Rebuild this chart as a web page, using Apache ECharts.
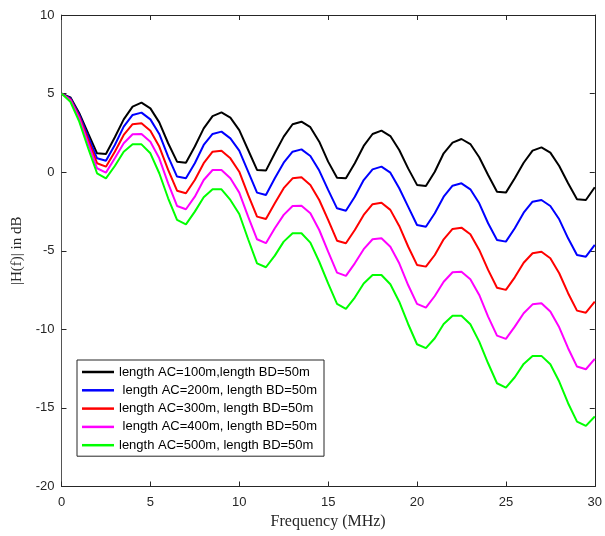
<!DOCTYPE html>
<html>
<head>
<meta charset="utf-8">
<script src="https://cdn.jsdelivr.net/npm/echarts@6/dist/echarts.min.js"></script>
<style>
  html, body { margin: 0; padding: 0; background: #fff; }
  #main { width: 605px; height: 536px; }
</style>
</head>
<body>
<div id="main"></div>
<script>
// frequency axis (MHz), one point every 0.5 MHz
var freqs = [0, 0.5, 1, 1.5, 2, 2.5, 3, 3.5, 4, 4.5, 5, 5.5, 6, 6.5, 7, 7.5, 8, 8.5, 9, 9.5,
  10, 10.5, 11, 11.5, 12, 12.5, 13, 13.5, 14, 14.5, 15, 15.5, 16, 16.5, 17, 17.5, 18, 18.5, 19, 19.5,
  20, 20.5, 21, 21.5, 22, 22.5, 23, 23.5, 24, 24.5, 25, 25.5, 26, 26.5, 27, 27.5, 28, 28.5, 29, 29.5, 30];

// |H(f)| in dB
var ac100 = [5.0, 4.76, 3.75, 2.47, 1.2, 1.16, 2.22, 3.36, 4.17, 4.42, 4.06, 3.17, 1.84, 0.67, 0.6, 1.63, 2.79, 3.57, 3.8, 3.47,
  2.68, 1.41, 0.14, 0.1, 1.2, 2.26, 3.05, 3.21, 2.86, 1.94, 0.67, -0.35, -0.39, 0.57, 1.67, 2.43, 2.64, 2.3, 1.41, 0.24,
  -0.81, -0.88, 0.03, 1.2, 1.88, 2.11, 1.79, 0.95, -0.18, -1.24, -1.3, -0.39, 0.6, 1.37, 1.58, 1.24, 0.39, -0.71, -1.72, -1.77, -0.96];
var ac200 = [5.0, 4.70, 3.64, 2.26, 0.88, 0.73, 1.73, 2.9, 3.64, 3.79, 3.36, 2.43, 0.99, -0.28, -0.39, 0.57, 1.73, 2.43, 2.58, 2.15,
  1.37, 0.03, -1.3, -1.45, -0.39, 0.6, 1.3, 1.45, 1.03, 0.1, -1.13, -2.3, -2.45, -1.56, -0.5, 0.18, 0.35, -0.03, -1.02, -2.19,
  -3.36, -3.47, -2.61, -1.56, -0.86, -0.71, -1.09, -1.98, -3.25, -4.31, -4.42, -3.57, -2.58, -1.88, -1.77, -2.15, -3.0, -4.21, -5.27, -5.38, -4.63];
var ac300 = [5.0, 4.64, 3.53, 2.05, 0.57, 0.35, 1.3, 2.37, 3.05, 3.11, 2.64, 1.63, 0.14, -1.18, -1.34, -0.5, 0.57, 1.3, 1.37, 0.88,
  0.03, -1.45, -2.83, -2.98, -1.98, -1.02, -0.39, -0.32, -0.81, -1.77, -3.04, -4.36, -4.52, -3.68, -2.72, -2.04, -1.94, -2.4, -3.42, -4.73,
  -5.9, -6.01, -5.27, -4.27, -3.61, -3.53, -3.95, -4.95, -6.22, -7.35, -7.49, -6.69, -5.76, -5.16, -5.06, -5.48, -6.43, -7.7, -8.81, -8.94, -8.24];
var ac400 = [5.0, 4.59, 3.43, 1.84, 0.25, -0.03, 0.88, 1.84, 2.41, 2.43, 1.94, 0.88, -0.71, -2.15, -2.36, -1.56, -0.5, 0.14, 0.14, -0.39,
  -1.3, -2.83, -4.27, -4.52, -3.57, -2.72, -2.15, -2.13, -2.61, -3.68, -5.06, -6.39, -6.6, -5.8, -4.9, -4.27, -4.21, -4.74, -5.8, -7.18,
  -8.38, -8.62, -7.88, -6.97, -6.37, -6.33, -6.81, -7.81, -9.19, -10.4, -10.61, -9.83, -8.98, -8.41, -8.34, -8.87, -9.87, -11.2, -12.37, -12.54, -11.88];
var ac500 = [5.0, 4.48, 3.21, 1.52, -0.07, -0.39, 0.39, 1.3, 1.77, 1.77, 1.2, -0.07, -1.66, -3.04, -3.32, -2.51, -1.6, -1.09, -1.09, -1.77,
  -2.66, -4.27, -5.8, -6.05, -5.31, -4.42, -3.89, -3.89, -4.48, -5.7, -7.08, -8.38, -8.7, -7.98, -7.08, -6.54, -6.54, -7.13, -8.24, -9.66,
  -10.95, -11.2, -10.57, -9.66, -9.13, -9.13, -9.68, -10.78, -12.16, -13.43, -13.71, -13.05, -12.2, -11.69, -11.69, -12.22, -13.32, -14.7, -15.87, -16.14, -15.55];

var names = [
  'length AC=100m,length BD=50m',
  ' length AC=200m, length BD=50m',
  'length AC=300m, length BD=50m',
  ' length AC=400m, length BD=50m',
  'length AC=500m, length BD=50m'
];
var colors = ['#000000', '#0000ff', '#ff0000', '#ff00ff', '#00ff00'];
var values = [ac100, ac200, ac300, ac400, ac500];

var chart = echarts.init(document.getElementById('main'));

function pairs(ys) {
  return freqs.map(function (f, i) { return [f, ys[i]]; });
}

var axisColor = '#262626';
var labelFont = { color: axisColor, fontFamily: 'Liberation Sans, Arial, sans-serif', fontSize: 13 };

var option = {
  animation: false,
  backgroundColor: '#ffffff',
  grid: { left: 61.5, right: 7.5, top: 15, bottom: 49.5, containLabel: false },
  legend: {
    orient: 'vertical',
    left: 77,
    top: 360,
    icon: 'rect',
    itemWidth: 32,
    itemHeight: 2.5,
    itemGap: 4.3,
    padding: [5, 7, 4, 5],
    backgroundColor: '#ffffff',
    borderColor: axisColor,
    borderWidth: 1,
    borderRadius: 0,
    textStyle: { color: '#000', fontFamily: 'Liberation Sans, Arial, sans-serif', fontSize: 13, lineHeight: 14 },
    data: names
  },
  xAxis: [{
    type: 'value', min: 0, max: 30, interval: 5,
    name: 'Frequency (MHz)', nameLocation: 'middle', nameGap: 26,
    nameTextStyle: { color: axisColor, fontFamily: 'Liberation Serif, Times New Roman, serif', fontSize: 16 },
    axisLine: { onZero: false, lineStyle: { color: axisColor, width: 1 } },
    axisTick: { inside: true, length: 5, lineStyle: { color: axisColor } },
    axisLabel: Object.assign({ margin: 9 }, labelFont),
    splitLine: { show: false }
  }, {
    type: 'value', min: 0, max: 30, interval: 5, position: 'top',
    axisLine: { onZero: false, lineStyle: { color: axisColor, width: 1 } },
    axisTick: { inside: true, length: 5, lineStyle: { color: axisColor } },
    axisLabel: { show: false },
    splitLine: { show: false }
  }],
  yAxis: [{
    type: 'value', min: -20, max: 10, interval: 5,
    name: '|H(f)| in dB', nameLocation: 'middle', nameGap: 32,
    nameTextStyle: { color: axisColor, fontFamily: 'Liberation Serif, Times New Roman, serif', fontSize: 15 },
    axisLine: { show: true, onZero: false, lineStyle: { color: '#555555', width: 1 } },
    axisTick: { show: true, inside: true, length: 5, lineStyle: { color: axisColor } },
    axisLabel: Object.assign({ margin: 7 }, labelFont),
    splitLine: { show: false }
  }, {
    type: 'value', min: -20, max: 10, interval: 5, position: 'right',
    axisLine: { show: true, onZero: false, lineStyle: { color: axisColor, width: 1 } },
    axisTick: { show: true, inside: true, length: 5, lineStyle: { color: axisColor } },
    axisLabel: { show: false },
    splitLine: { show: false }
  }],
  series: values.map(function (ys, k) {
    return {
      name: names[k],
      type: 'line',
      xAxisIndex: 0,
      yAxisIndex: 0,
      data: pairs(ys),
      showSymbol: false,
      symbol: 'none',
      color: colors[k],
      lineStyle: { color: colors[k], width: 2 },
      z: 2 + k
    };
  })
};

chart.setOption(option);
</script>
</body>
</html>
